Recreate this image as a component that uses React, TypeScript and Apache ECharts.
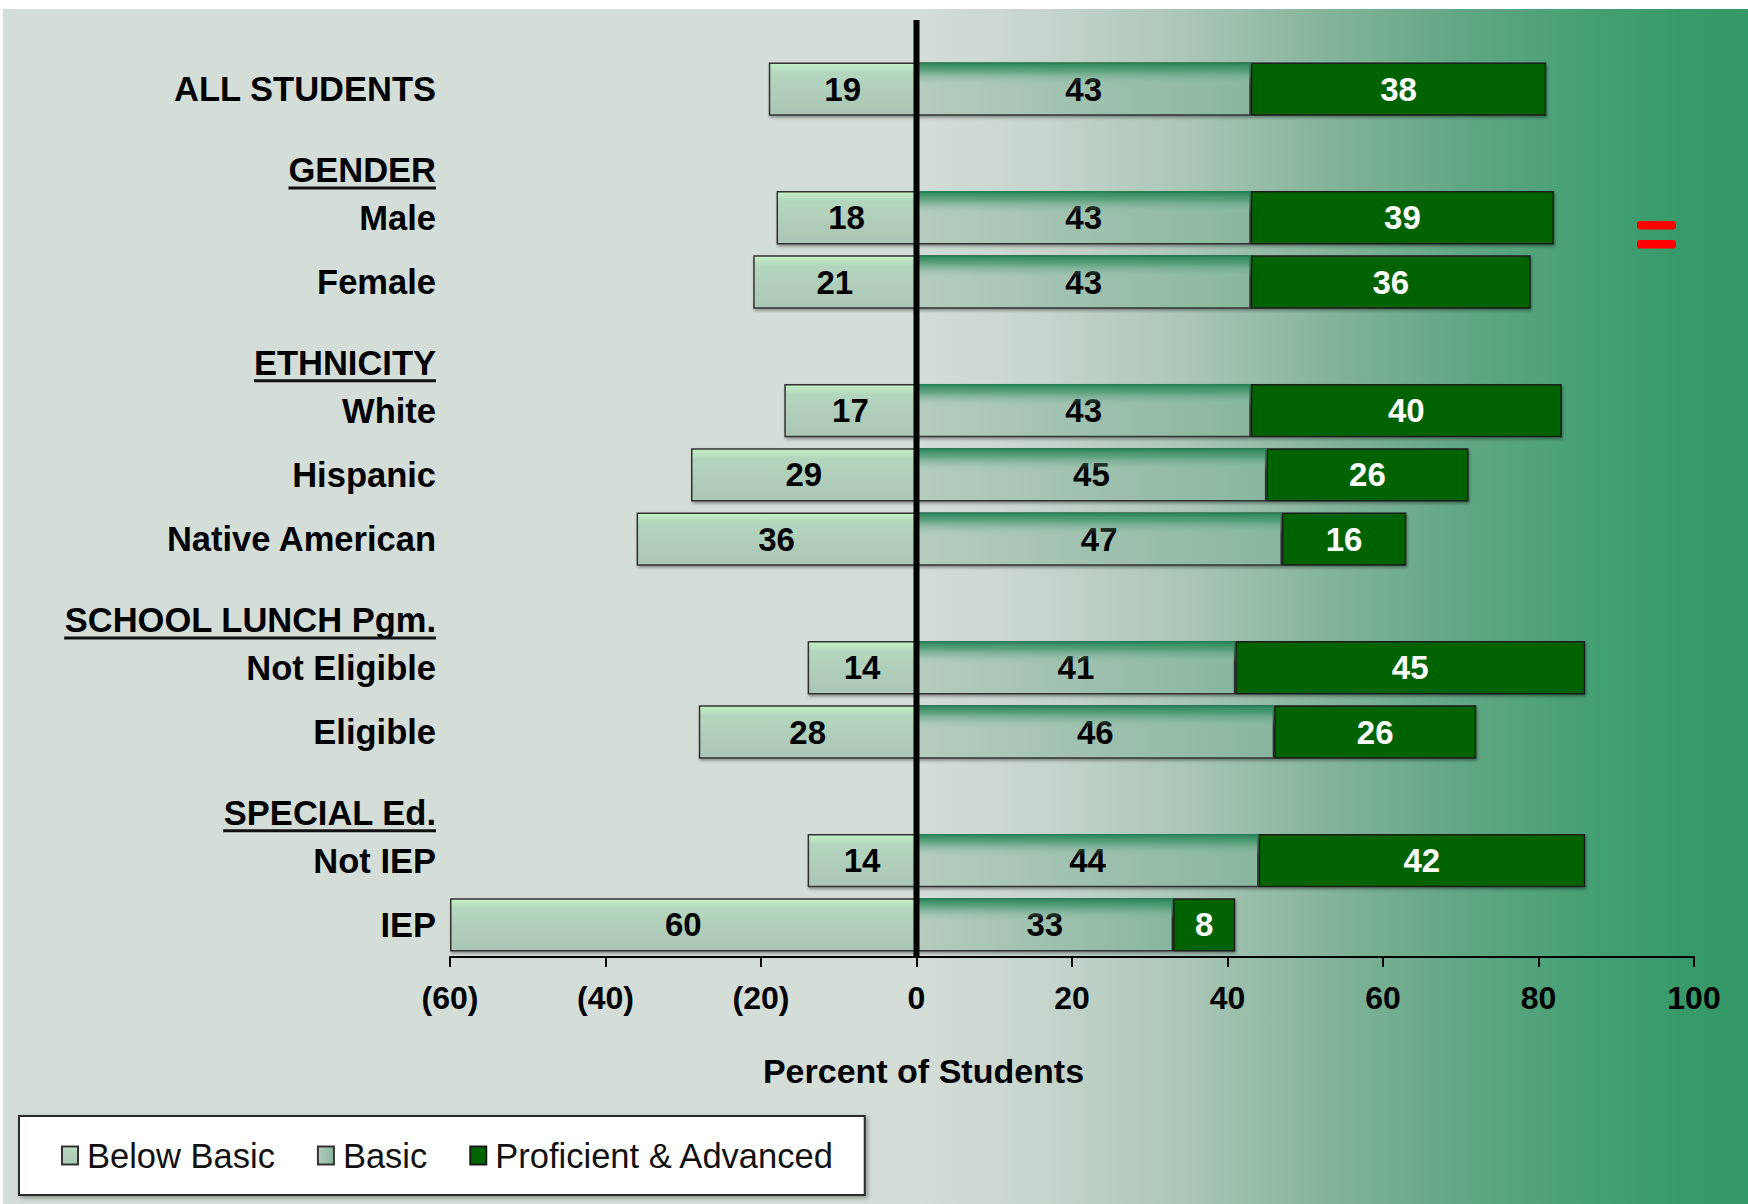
import React, { useEffect, useRef } from 'react';
import * as echarts from 'echarts';

const FONT = '"Liberation Sans", Arial, sans-serif';

// Rows (top to bottom) and the group headers inserted before some rows
const rowLabels = ['ALL STUDENTS', 'Male', 'Female', 'White', 'Hispanic', 'Native American', 'Not Eligible', 'Eligible', 'Not IEP', 'IEP'];
const groupHeaders = ['GENDER', 'ETHNICITY', 'SCHOOL LUNCH Pgm.', 'SPECIAL Ed.'];
const headerBeforeRow = [1, 3, 6, 8];

// Percent of students
const belowBasic = [19, 18, 21, 17, 29, 36, 14, 28, 14, 60];
const basic = [43, 43, 43, 43, 45, 47, 41, 46, 44, 33];
const proficient = [38, 39, 36, 40, 26, 16, 45, 26, 42, 8];

const seriesNames = ['Below Basic', 'Basic', 'Proficient & Advanced'];
const xMin = -60;
const xMax = 100;
const xStep = 20;
const xAxisTitle = 'Percent of Students';

type Slot = { label: string; header: number; row: number };
const slots: Slot[] = [];
rowLabels.forEach((lab, i) => {
  const h = headerBeforeRow.indexOf(i);
  if (h >= 0) slots.push({ label: groupHeaders[h], header: h, row: -1 });
  slots.push({ label: lab, header: -1, row: i });
});
const categories = slots.map((s) => s.label);
const pick = (arr: number[], sign = 1) => slots.map((s) => (s.row < 0 ? '-' : sign * arr[s.row]));

const LABEL_SIZE = 34.5;
const VALUE_SIZE = 33;
const LABEL_MARGIN = 14;

export default function App() {
  const ref = useRef<HTMLDivElement>(null);
  useEffect(() => {
    if (!ref.current) return;
    const chart = echarts.init(ref.current, null, { renderer: 'svg' });

    const ctx = document.createElement('canvas').getContext('2d')!;
    ctx.font = `bold ${LABEL_SIZE}px ${FONT}`;

    const border = {
      borderColor: '#333',
      borderWidth: 1.5,
      shadowColor: 'rgba(0,0,0,0.35)',
      shadowBlur: 3,
      shadowOffsetX: 1,
      shadowOffsetY: 2,
    };
    const labelBase = {
      show: true,
      position: 'inside',
      fontFamily: FONT,
      fontWeight: 'bold',
      fontSize: VALUE_SIZE,
    };

    const bgGrad = new echarts.graphic.LinearGradient(0, 0, 1, 0, [
      { offset: 0, color: '#d4ddd8' },
      { offset: 0.525, color: '#d4ddd8' },
      { offset: 0.6, color: '#c6d4cc' },
      { offset: 0.68, color: '#a9c6b6' },
      { offset: 0.76, color: '#84b39b' },
      { offset: 0.84, color: '#5fa683' },
      { offset: 0.91, color: '#45a073' },
      { offset: 0.96, color: '#389a6a' },
      { offset: 1, color: '#339966' },
    ]);

    const baseGraphic: any[] = [
      {
        id: 'bg',
        type: 'rect',
        z: -10,
        silent: true,
        shape: { x: 3, y: 9, width: 1745, height: 1195 },
        style: { fill: bgGrad },
      },
      {
        id: 'eq1',
        type: 'rect',
        z: 10,
        shape: { x: 1637, y: 221, width: 39, height: 8.5, r: 3 },
        style: { fill: '#ff0000' },
      },
      {
        id: 'eq2',
        type: 'rect',
        z: 10,
        shape: { x: 1637, y: 240, width: 39, height: 8.5, r: 3 },
        style: { fill: '#ff0000' },
      },
    ];

    const option: any = {
      animation: false,
      grid: { left: 450, right: 54, top: 57, bottom: 247 },
      legend: {
        data: seriesNames,
        left: 19,
        top: 1116,
        orient: 'horizontal',
        selectedMode: false,
        backgroundColor: '#fff',
        borderColor: '#2b2b2b',
        borderWidth: 2,
        padding: [22, 30, 22, 42],
        itemGap: 42,
        itemWidth: 16,
        itemHeight: 18,
        icon: 'rect',
        shadowColor: 'rgba(0,0,0,0.35)',
        shadowBlur: 4,
        shadowOffsetX: 2,
        shadowOffsetY: 2,
        textStyle: { fontFamily: FONT, fontSize: 34.5, color: '#111', padding: [0, 0, 0, 4] },
      },
      xAxis: {
        type: 'value',
        min: xMin,
        max: xMax,
        interval: xStep,
        axisLine: { show: true, onZero: false, lineStyle: { color: '#000', width: 2 } },
        axisTick: { show: true, length: 10, lineStyle: { color: '#000', width: 2 } },
        splitLine: { show: false },
        axisLabel: {
          margin: 25,
          fontFamily: FONT,
          fontWeight: 'bold',
          fontSize: 32,
          color: '#000',
          formatter: (v: number) => (v < 0 ? `(${-v})` : `${v}`),
        },
      },
      yAxis: {
        type: 'category',
        data: categories,
        inverse: true,
        axisLine: { show: false, onZero: false },
        axisTick: { show: false },
        axisLabel: {
          margin: LABEL_MARGIN,
          fontFamily: FONT,
          fontWeight: 'bold',
          fontSize: LABEL_SIZE,
          color: '#000',
          formatter: (value: string, index: number) => {
            const s = slots[index];
            return s && s.header >= 0 ? '' : value;
          },
        },
      },
      series: [
        {
          name: seriesNames[0],
          type: 'bar',
          stack: 'total',
          barCategoryGap: '17%',
          barGap: '-100%',
          data: pick(belowBasic, -1),
          itemStyle: {
            ...border,
            color: new echarts.graphic.LinearGradient(0, 0, 0, 1, [
              { offset: 0, color: '#c4f2c4' },
              { offset: 0.18, color: '#b4d6be' },
              { offset: 1, color: '#abc6b7' },
            ]),
          },
          label: { ...labelBase, color: '#000', formatter: (p: any) => Math.abs(p.value) },
          z: 2,
        },
        {
          name: seriesNames[1],
          type: 'bar',
          stack: 'total',
          barCategoryGap: '17%',
          barGap: '-100%',
          data: pick(basic),
          itemStyle: {
            ...border,
            color: new echarts.graphic.LinearGradient(0, 0, 1, 0, [
              { offset: 0, color: '#b6ccc0' },
              { offset: 1, color: '#88b69e' },
            ]),
          },
          label: { ...labelBase, color: '#000' },
          z: 2,
        },
        {
          name: seriesNames[2],
          type: 'bar',
          stack: 'total',
          barCategoryGap: '17%',
          barGap: '-100%',
          data: pick(proficient),
          itemStyle: { ...border, borderColor: '#1a1a1a', color: '#006400' },
          label: { ...labelBase, color: '#fff' },
          z: 2,
        },
        {
          name: 'basicSheen',
          type: 'bar',
          stack: 'sheen',
          barCategoryGap: '17%',
          barGap: '-100%',
          silent: true,
          data: pick(basic),
          itemStyle: {
            color: new echarts.graphic.LinearGradient(0, 0, 0, 1, [
              { offset: 0, color: 'rgba(38,130,86,1)' },
              { offset: 0.16, color: 'rgba(58,145,102,0.65)' },
              { offset: 0.42, color: 'rgba(150,195,170,0)' },
              { offset: 1, color: 'rgba(150,195,170,0)' },
            ]),
          },
          label: { show: false },
          z: 3,
        },
      ],
      graphic: baseGraphic,
    };

    chart.setOption(option);

    const x0 = chart.convertToPixel({ xAxisIndex: 0 }, 0) as number;
    const xLeft = chart.convertToPixel({ xAxisIndex: 0 }, xMin) as number;
    const axisY = 1204 - 247;
    const labelRight = xLeft - LABEL_MARGIN;

    const headerGraphic: any[] = [];
    groupHeaders.forEach((g, i) => {
      const yc = chart.convertToPixel({ yAxisIndex: 0 }, g) as number;
      const w = ctx.measureText(g).width;
      headerGraphic.push({
        id: 'hdr' + i,
        type: 'text',
        z: 20,
        x: labelRight,
        y: yc + 17,
        style: {
          text: g,
          fontFamily: FONT,
          fontWeight: 'bold',
          fontSize: LABEL_SIZE,
          fill: '#000',
          align: 'right',
          verticalAlign: 'middle',
        },
      });
      headerGraphic.push({
        id: 'ul' + i,
        type: 'rect',
        z: 20,
        shape: { x: labelRight - w, y: yc + 33, width: w, height: 3 },
        style: { fill: '#111' },
      });
    });

    chart.setOption({
      graphic: [
        ...baseGraphic,
        ...headerGraphic,
        {
          id: 'zero',
          type: 'line',
          z: 20,
          silent: true,
          shape: { x1: x0, y1: 20, x2: x0, y2: axisY },
          style: { stroke: '#000', lineWidth: 6 },
        },
        {
          id: 'xtitle',
          type: 'text',
          z: 20,
          x: x0 + 7,
          y: 1071,
          style: {
            text: xAxisTitle,
            fontFamily: FONT,
            fontWeight: 'bold',
            fontSize: 34,
            fill: '#000',
            align: 'center',
            verticalAlign: 'middle',
          },
        },
      ],
    });

    return () => chart.dispose();
  }, []);

  return (
    <div
      ref={ref}
      style={{ position: 'fixed', left: 0, top: 0, width: 1748, height: 1204, background: '#fff' }}
    />
  );
}
